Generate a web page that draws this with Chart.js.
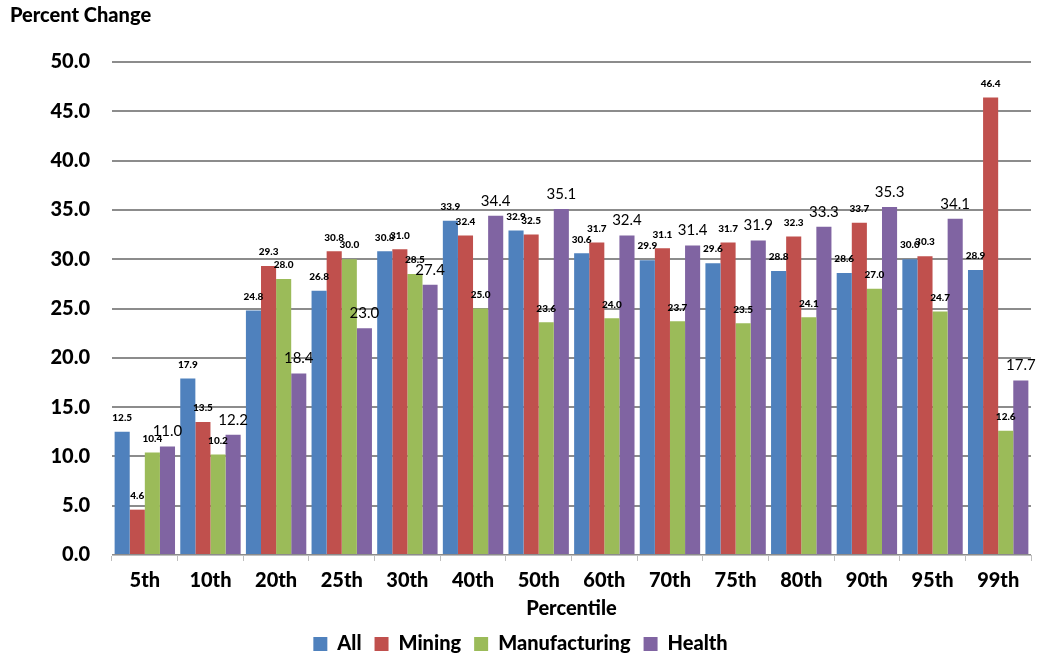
<!DOCTYPE html>
<html>
<head>
<meta charset="utf-8">
<script src="https://cdn.jsdelivr.net/npm/chart.js@4/dist/chart.umd.min.js"></script>
<style>
  html, body { margin: 0; padding: 0; background: #ffffff; }
  #wrap { width: 1038px; height: 659px; }
</style>
</head>
<body>
<div id="wrap"><canvas id="chart" width="1038" height="659"></canvas></div>
<script>
// Percent change by wage percentile, by sector
const percentiles = ['5th', '10th', '20th', '25th', '30th', '40th', '50th', '60th', '70th', '75th', '80th', '90th', '95th', '99th'];
const allValues = [12.5, 17.9, 24.8, 26.8, 30.8, 33.9, 32.9, 30.6, 29.9, 29.6, 28.8, 28.6, 30.0, 28.9];
const miningValues = [4.6, 13.5, 29.3, 30.8, 31.0, 32.4, 32.5, 31.7, 31.1, 31.7, 32.3, 33.7, 30.3, 46.4];
const manufacturingValues = [10.4, 10.2, 28.0, 30.0, 28.5, 25.0, 23.6, 24.0, 23.7, 23.5, 24.1, 27.0, 24.7, 12.6];
const healthValues = [11.0, 12.2, 18.4, 23.0, 27.4, 34.4, 35.1, 32.4, 31.4, 31.9, 33.3, 35.3, 34.1, 17.7];

const FONT = 'Lato, "Open Sans", "DejaVu Sans", sans-serif';
const HEAVY = '900';
Chart.defaults.font.family = FONT;
Chart.defaults.color = '#000000';

// Value labels above each bar; the last series uses a larger regular face
const barValueLabels = {
  id: 'barValueLabels',
  afterDatasetsDraw(chart) {
    const ctx = chart.ctx;
    ctx.save();
    ctx.textAlign = 'center';
    ctx.textBaseline = 'middle';
    ctx.fillStyle = '#000000';
    chart.data.datasets.forEach((ds, di) => {
      const meta = chart.getDatasetMeta(di);
      const large = di === 3;
      ctx.font = large ? '15px ' + FONT : HEAVY + ' 10px ' + FONT;
      const lift = large ? 15 : 14;
      meta.data.forEach((bar, i) => {
        ctx.fillText(ds.data[i].toFixed(1), bar.x, bar.y - lift);
      });
    });
    ctx.restore();
  }
};

new Chart(document.getElementById('chart'), {
  type: 'bar',
  data: {
    labels: percentiles,
    datasets: [
      { label: 'All', data: allValues, backgroundColor: '#4F81BD' },
      { label: 'Mining', data: miningValues, backgroundColor: '#C0504D' },
      { label: 'Manufacturing', data: manufacturingValues, backgroundColor: '#9BBB59' },
      { label: 'Health', data: healthValues, backgroundColor: '#8064A2' }
    ]
  },
  options: {
    responsive: false,
    animation: false,
    layout: { padding: { left: 10, right: 7, top: 0, bottom: 0 } },
    datasets: { bar: { categoryPercentage: 0.92, barPercentage: 1.0 } },
    plugins: {
      title: {
        display: true,
        text: 'Percent Change',
        align: 'start',
        color: '#000000',
        font: { size: 20, weight: HEAVY },
        padding: { top: 4, bottom: 34 }
      },
      legend: {
        position: 'bottom',
        maxHeight: 38,
        labels: {
          boxWidth: 14,
          boxHeight: 14,
          padding: 13,
          color: '#000000',
          font: { size: 20, weight: HEAVY }
        }
      },
      tooltip: { enabled: false }
    },
    scales: {
      x: {
        afterFit(scale) { scale.height = 66; },
        grid: {
          display: true,
          drawOnChartArea: false,
          drawTicks: true,
          tickLength: 6,
          color: '#bfbfbf',
          offset: true
        },
        border: { display: true, color: '#bfbfbf', width: 1 },
        ticks: { padding: 8, color: '#000000', font: { size: 20, weight: HEAVY } },
        title: {
          display: true,
          text: 'Percentile',
          color: '#000000',
          font: { size: 20, weight: HEAVY },
          padding: { top: 4, bottom: 0 }
        }
      },
      y: {
        min: 0,
        max: 50,
        afterFit(scale) { scale.width = 102; },
        border: { display: false },
        grid: { color: '#8c8c8c', lineWidth: 2, drawTicks: false },
        ticks: {
          stepSize: 5,
          padding: 22,
          color: '#000000',
          font: { size: 20, weight: HEAVY },
          callback: (v) => Number(v).toFixed(1)
        }
      }
    }
  },
  plugins: [barValueLabels]
});
</script>
</body>
</html>
